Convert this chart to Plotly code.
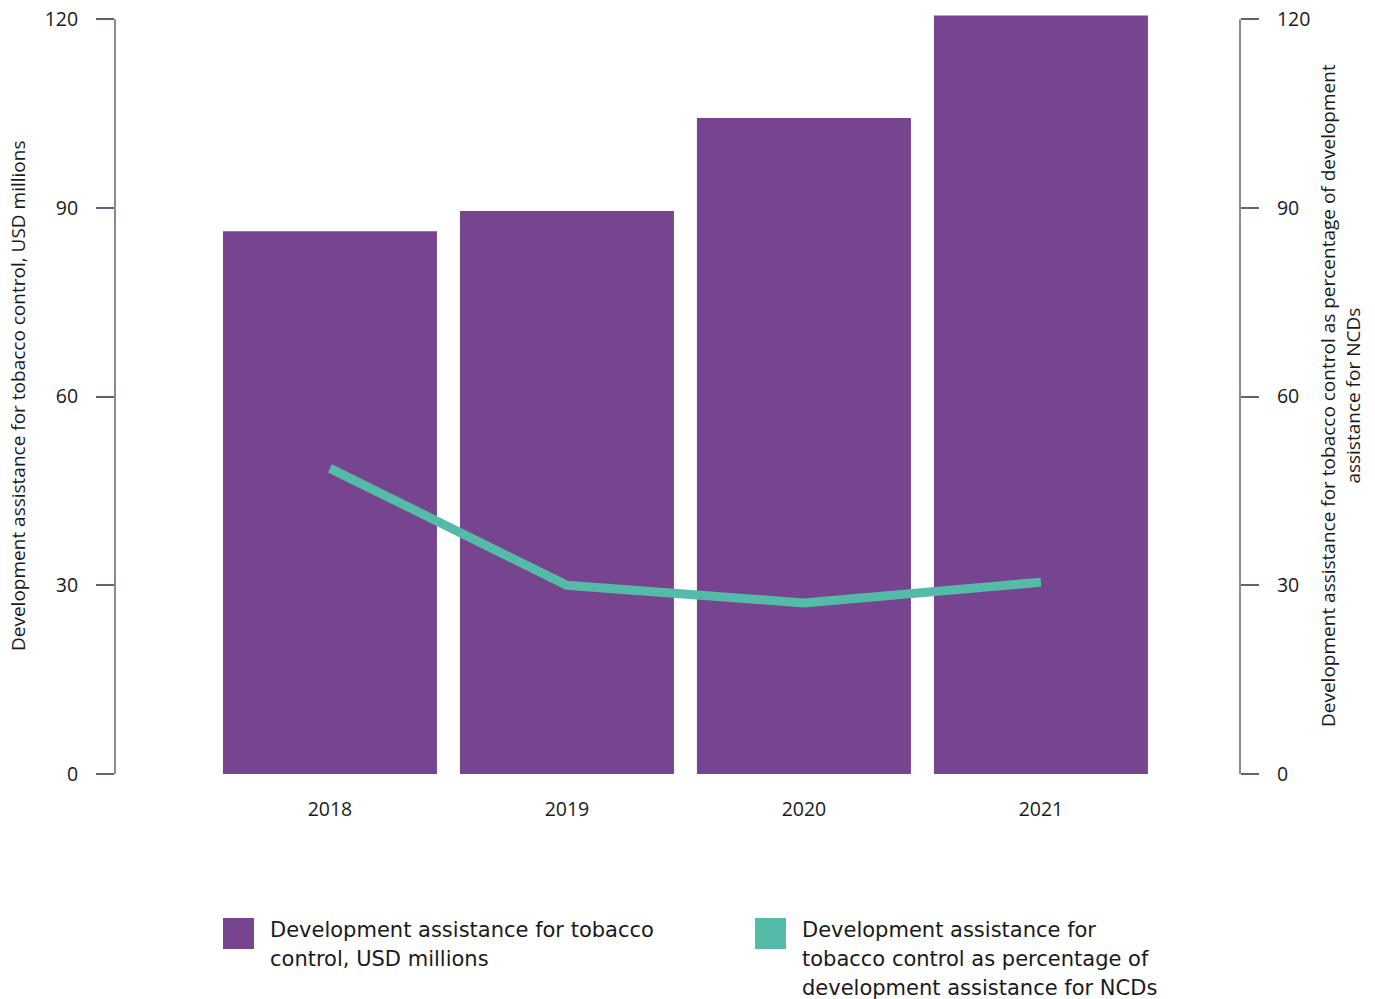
import plotly.graph_objects as go

years = ["2018", "2019", "2020", "2021"]
usd_millions = [86.3, 89.5, 104.3, 120.6]
pct_of_ncd = [48.6, 30.0, 27.2, 30.5]
y_ticks = [0, 30, 60, 90, 120]

BAR_COLOR = "#77458f"
LINE_COLOR = "#55bba9"
AXIS_COLOR = "#5b6577"
FONT = "Open Sans"
LEG_FONT = "DejaVu Sans"
TXT = "#1a1a1a"

fig = go.Figure()
fig.add_trace(go.Bar(x=years, y=usd_millions, marker_color=BAR_COLOR, marker_line_width=0,
                     name="Development assistance for tobacco control, USD millions", showlegend=False))
fig.add_trace(go.Scatter(x=years, y=pct_of_ncd, yaxis="y2", mode="lines",
                         line=dict(color=LINE_COLOR, width=9), showlegend=False,
                         name="Development assistance for tobacco control as percentage of development assistance for NCDs"))

L, R, T, B = 115, 135, 13, 225
W, H = 1375, 999
pw = W - L - R
ph = H - T - B

def px_x(p):
    return (p - L) / pw

def px_y(p):
    return (H - B - p) / ph

fig.update_layout(
    width=W, height=H,
    margin=dict(l=L, r=R, t=T, b=B, autoexpand=False),
    plot_bgcolor="white", paper_bgcolor="white",
    bargap=0.097,
    font=dict(family=FONT, size=19, color=TXT),
    xaxis=dict(range=[-0.907, 3.84], showgrid=False, showline=False, zeroline=False,
               automargin=False, ticks="outside", ticklen=18, tickcolor="rgba(0,0,0,0)",
               tickfont=dict(size=19.5, family=FONT, color=TXT)),
    yaxis=dict(range=[0, 121], tickvals=y_ticks, showgrid=False, zeroline=False, showline=False,
               automargin=False, ticks="outside", ticklen=18, tickwidth=1.5, tickcolor=AXIS_COLOR,
               ticklabelstandoff=14, tickfont=dict(size=19.5, family=FONT, color=TXT)),
    yaxis2=dict(range=[0, 121], tickvals=y_ticks, overlaying="y", side="right", showgrid=False,
                zeroline=False, showline=False, automargin=False, ticks="outside", ticklen=18,
                tickwidth=1.5, tickcolor=AXIS_COLOR, ticklabelstandoff=14,
                tickfont=dict(size=19.5, family=FONT, color=TXT)),
    showlegend=False,
)

# axis spines from 0 to 120
fig.add_shape(type="line", xref="paper", yref="y", x0=0, x1=0, y0=0, y1=120,
              line=dict(color=AXIS_COLOR, width=1.5))
fig.add_shape(type="line", xref="paper", yref="y", x0=1, x1=1, y0=0, y1=120,
              line=dict(color=AXIS_COLOR, width=1.5))

# axis titles
fig.add_annotation(text="Development assistance for tobacco control, USD millions",
                   xref="paper", yref="paper", x=px_x(18), y=px_y(396), textangle=-90,
                   showarrow=False, font=dict(size=19, family=FONT, color=TXT),
                   xanchor="center", yanchor="middle")
fig.add_annotation(text="Development assistance for tobacco control as percentage of development<br>assistance for NCDs",
                   xref="paper", yref="paper", x=px_x(1340), y=px_y(396), textangle=-90,
                   showarrow=False, font=dict(size=19, family=FONT, color=TXT),
                   xanchor="center", yanchor="middle", align="center")

# custom legend
legend_items = [
    (223, BAR_COLOR, ["Development assistance for tobacco", "control, USD millions"]),
    (755, LINE_COLOR, ["Development assistance for", "tobacco control as percentage of",
                       "development assistance for NCDs"]),
]
for x0, col, lines in legend_items:
    fig.add_shape(type="rect", xref="paper", yref="paper",
                  x0=px_x(x0), x1=px_x(x0 + 31), y0=px_y(918), y1=px_y(949),
                  fillcolor=col, line=dict(width=0))
    for i, ln in enumerate(lines):
        fig.add_annotation(text=ln, xref="paper", yref="paper", x=px_x(x0 + 45),
                           y=px_y(930 + 29 * i), xanchor="left", yanchor="middle",
                           align="left", showarrow=False,
                           font=dict(size=21, family=LEG_FONT, color=TXT))

fig.write_html("out.html")
